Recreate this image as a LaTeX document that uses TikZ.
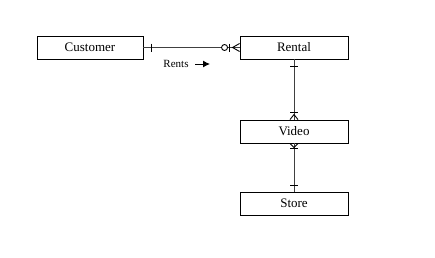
\documentclass[tikz,border=0pt]{standalone}
\usepackage{fontspec}
\setmainfont{Liberation Serif}
\usetikzlibrary{calc,arrows.meta}
\begin{document}
\begin{tikzpicture}[x=1pt,y=-1pt,
  entity/.style={draw,line width=0.9pt,minimum width=108pt,minimum height=23pt,inner sep=0pt,font=\fontsize{13}{15}\selectfont},
  rel/.style={draw=black!75,line width=1pt},
  tick/.style={draw,line width=0.9pt}]
\useasboundingbox (0,0) rectangle (435,257);
\fill[white] (0,0) rectangle (435,257);
\node[entity,minimum width=106pt] (cust) at (90,47.5) {Customer};
\node[entity] (rent) at (294,47.5) {Rental};
\node[entity] (vid) at (294,131.5) {Video};
\node[entity] (store) at (294,203.5) {Store};
\node[font=\fontsize{11}{13}\selectfont] (rlab) at (176,64) {Rents};
\coordinate (arS) at (195,64);
\coordinate (arE) at (210,64);
\draw[line width=1pt,-{Latex[length=7pt,width=7pt]}] (arS) -- (arE);
% Customer - Rental
\draw[rel] (cust.east) -- (rent.west);
\draw[tick] ($(cust.east)+(8,-4)$) -- ($(cust.east)+(8,4)$);
\draw[tick,fill=white] ($(rent.west)+(-15,0)$) circle (3);
\draw[tick] ($(rent.west)+(-10,-4)$) -- ($(rent.west)+(-10,4)$);
\draw[tick] ($(rent.west)+(0,-4)$) -- ($(rent.west)+(-7,0)$) -- ($(rent.west)+(0,4)$);
% Rental - Video
\draw[rel] (rent.south) -- (vid.north);
\draw[tick] ($(rent.south)+(-4,7)$) -- ($(rent.south)+(4,7)$);
\draw[tick] ($(vid.north)+(-4,-7)$) -- ($(vid.north)+(4,-7)$);
\draw[tick] ($(vid.north)+(-4,0)$) -- ($(vid.north)+(0,-5)$) -- ($(vid.north)+(4,0)$);
% Video - Store
\draw[rel] (vid.south) -- (store.north);
\draw[tick] ($(vid.south)+(-4,0)$) -- ($(vid.south)+(0,4)$) -- ($(vid.south)+(4,0)$);
\draw[tick] ($(vid.south)+(-4,5)$) -- ($(vid.south)+(4,5)$);
\draw[tick] ($(store.north)+(-4,-6)$) -- ($(store.north)+(4,-6)$);
\end{tikzpicture}
\end{document}
